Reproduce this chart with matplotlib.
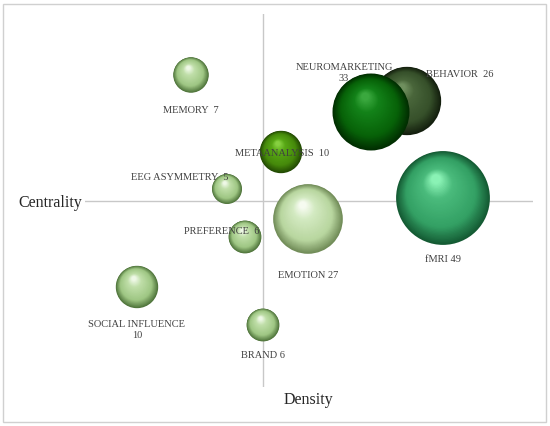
import numpy as np
import matplotlib
matplotlib.use("Agg")
import matplotlib.pyplot as plt
from matplotlib.colors import LinearSegmentedColormap
from matplotlib.patches import Rectangle
import matplotlib.transforms as mtransforms

# ---- data (drawing order: back to front) ----
topics = ["MEMORY", "BEHAVIOR", "NEUROMARKETING", "METAANALYSIS", "EEG ASYMMETRY",
          "fMRI", "EMOTION", "PREFERENCE", "SOCIAL INFLUENCE", "BRAND"]
counts = [7, 26, 33, 10, 5, 49, 27, 6, 10, 6]
density = [-0.72, 1.44, 1.08, 0.18, -0.36, 1.80, 0.45, -0.18, -1.26, 0.00]
centrality = [1.26, 1.00, 0.89, 0.49, 0.12, 0.03, -0.18, -0.36, -0.86, -1.24]
labels = ["MEMORY  7", "BEHAVIOR  26", "NEUROMARKETING\n33", "METAANALYSIS  10",
          "EEG ASYMMETRY  5", "fMRI 49", "EMOTION 27", "PREFERENCE  6",
          "SOCIAL INFLUENCE\n10", "BRAND 6"]

# ---- styles ----
label_offsets_px = [(0, -34), (53, 28), (-27, 40), (1, 0), (-47, 12),
                    (0, -61), (0, -55), (-23, 6), (0, -42), (0, -30)]
light = ("#4f743b", "#9fc784", "#c0dfa9", "#eef8e6")
palettes = {
    "MEMORY": light,
    "EEG ASYMMETRY": light,
    "PREFERENCE": light,
    "SOCIAL INFLUENCE": light,
    "BRAND": light,
    "EMOTION": ("#718c58", "#b8d69f", "#d3eac1", "#f6fbf0"),
    "NEUROMARKETING": ("#012e01", "#076208", "#138219", "#3aa83e"),
    "BEHAVIOR": ("#141f0e", "#36502a", "#4a663b", "#6f8f5e"),
    "METAANALYSIS": ("#234a03", "#468a0b", "#58a815", "#86d040"),
    "fMRI": ("#145a33", "#33a064", "#4abb7c", "#8af2b5"),
}

W, H, DPI = 550, 427, 100
fig = plt.figure(figsize=(W / DPI, H / DPI), dpi=DPI)
fig.patch.set_facecolor("white")

ax = fig.add_axes([85 / W, 1 - 388 / H, 448 / W, 373 / H])
ax.set_xlim(-1.78, 2.70)
ax.set_ylim(-1.86, 1.87)
ax.axis("off")
ax.axhline(0, color="#c8c8c8", lw=1.0, zorder=1)
ax.axvline(0, color="#c8c8c8", lw=1.0, zorder=1)

serif = ["Liberation Serif", "DejaVu Serif"]
n_layers = 45
px2pt = 72 / DPI
k_pt = 6.7 * px2pt  # radius (pt) per sqrt(count)

for j, (name, c, x, y) in enumerate(zip(topics, counts, density, centrality)):
    edge, base, mid, hl = palettes[name]
    cmap = LinearSegmentedColormap.from_list(
        name, [(0, edge), (0.28, base), (0.75, mid), (1, hl)])
    r = k_pt * np.sqrt(c)
    hx, hy = -0.15 * r, 0.40 * r
    for i in range(n_layers):
        t = i / (n_layers - 1)
        rad = r * (1 - 0.9 * t)
        tr = mtransforms.offset_copy(ax.transData, fig=fig, x=hx * t, y=hy * t,
                                     units="points")
        ax.scatter([x], [y], s=(2 * rad) ** 2, color=cmap(t),
                   linewidths=0, edgecolors="none", transform=tr,
                   zorder=2 + j * 0.01)

for lab, x, y, (dx, dy) in zip(labels, density, centrality, label_offsets_px):
    ax.annotate(lab, (x, y), xytext=(dx * px2pt, dy * px2pt),
                textcoords="offset points", ha="center", va="center",
                fontsize=7.5, family=serif, color="#404040", zorder=10,
                linespacing=1.2, annotation_clip=False)

fig.text(18 / W, 1 - 203 / H, "Centrality", ha="left", va="center",
         fontsize=11.5, family=serif, color="#262626")
fig.text(308 / W, 1 - 400 / H, "Density", ha="center", va="center",
         fontsize=11.5, family=serif, color="#262626")

fig.patches.append(Rectangle((3 / W, 4 / H), 543 / W, 418 / H,
                             transform=fig.transFigure, fill=False,
                             ec="#d0d0d0", lw=1))

fig.savefig("out.png", dpi=DPI)
